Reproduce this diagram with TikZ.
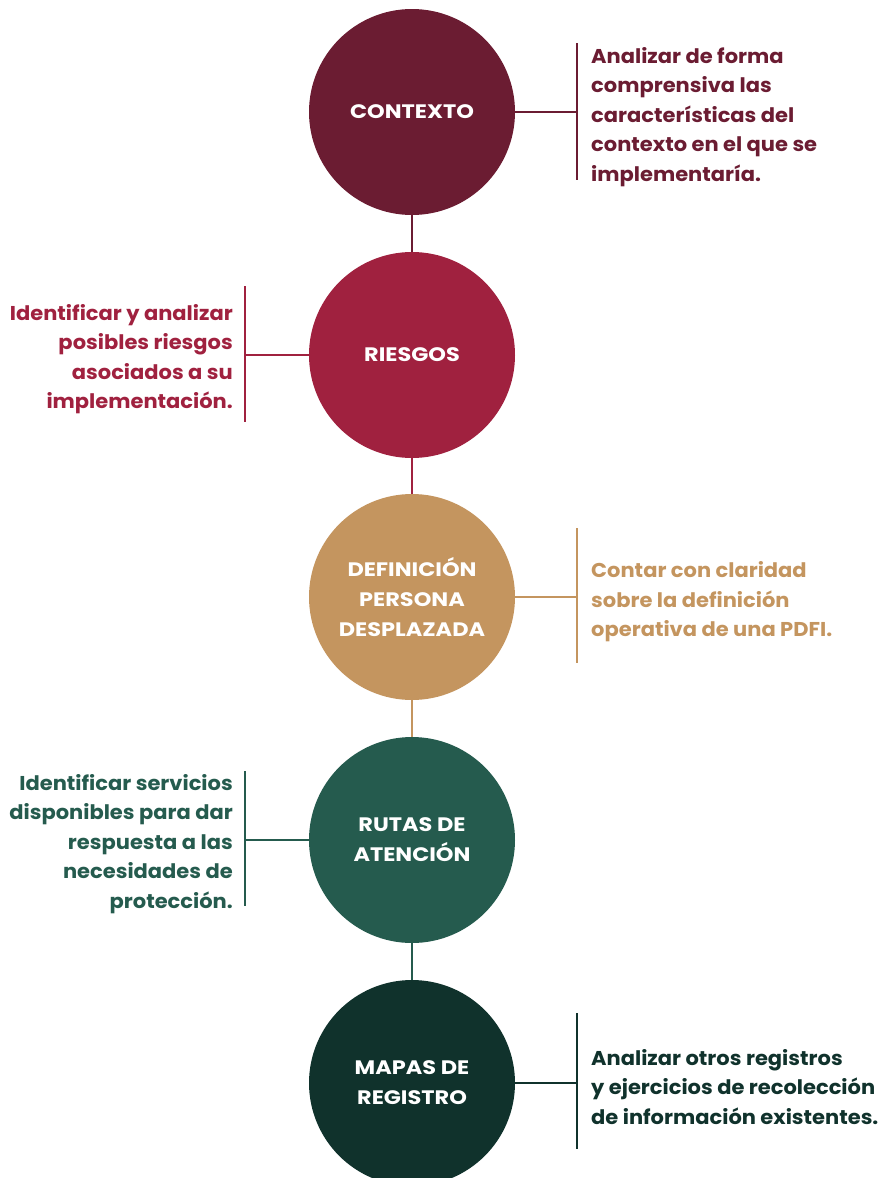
\documentclass[tikz,border=0pt]{standalone}
\usepackage{fontspec}
\setmainfont{Poppins}[FakeStretch=1.05]
\newfontfamily\stagefont{Poppins}[FakeStretch=1.15]
\usepackage{xcolor}
\usepackage{tikz}
\definecolor{wine}{HTML}{6B1C32}
\definecolor{crimson}{HTML}{A0213F}
\definecolor{sand}{HTML}{C4955F}
\definecolor{pine}{HTML}{255B4E}
\definecolor{forest}{HTML}{10322C}

\begin{document}
\begin{tikzpicture}[x=1pt, y=-1pt]
    \tikzstyle{stage} = [circle, minimum size=206pt, inner sep=0pt, text=white, align=center, text depth=0pt, font=\stagefont\bfseries\fontsize{19.5}{30}\selectfont]
    \tikzstyle{note} = [inner sep=0pt, font=\bfseries\fontsize{20}{29.5}\selectfont]
    \tikzstyle{link} = [line width=2pt]

    \useasboundingbox (0,0) rectangle (882,1178);

    % Stages from top to bottom
    \node [stage, fill=wine] (contexto) at (412,112) {CONTEXTO};
    \node [stage, fill=crimson] (riesgos) at (412,355) {RIESGOS};
    \node [stage, fill=sand] (definicion) at (412,597) {DEFINICIÓN\\PERSONA\\DESPLAZADA};
    \node [stage, fill=pine] (rutas) at (412,840) {RUTAS DE\\ATENCIÓN};
    \node [stage, fill=forest] (mapas) at (412,1083) {MAPAS DE\\REGISTRO};

    % Spine between stages
    \draw [link, wine] (contexto.south) -- (riesgos.north);
    \draw [link, crimson] (riesgos.south) -- (definicion.north);
    \draw [link, sand] (definicion.south) -- (rutas.north);
    \draw [link, pine] (rutas.south) -- (mapas.north);

    % Brackets
    \coordinate (ctxtop) at (577,43);  \coordinate (ctxbot) at (577,180);
    \coordinate (rsgtop) at (245,286); \coordinate (rsgbot) at (245,422);
    \coordinate (deftop) at (577,528); \coordinate (defbot) at (577,663);
    \coordinate (rutop) at (245,771);  \coordinate (rubot) at (245,906);
    \coordinate (maptop) at (577,1013); \coordinate (mapbot) at (577,1149);

    \draw [link, wine] (contexto.east) -- (contexto.east -| ctxtop);
    \draw [link, wine] (ctxtop) -- (ctxbot);
    \draw [link, crimson] (riesgos.west) -- (riesgos.west -| rsgtop);
    \draw [link, crimson] (rsgtop) -- (rsgbot);
    \draw [link, sand] (definicion.east) -- (definicion.east -| deftop);
    \draw [link, sand] (deftop) -- (defbot);
    \draw [link, pine] (rutas.west) -- (rutas.west -| rutop);
    \draw [link, pine] (rutop) -- (rubot);
    \draw [link, forest] (mapas.east) -- (mapas.east -| maptop);
    \draw [link, forest] (maptop) -- (mapbot);

    % Descriptions
    \node [note, text=wine, anchor=west, align=left] (ctxnote) at (591,117) {Analizar de forma\\comprensiva las\\características del\\contexto en el que se\\implementaría.};
    \node [note, text=crimson, anchor=east, align=right] (rsgnote) at (233,359) {Identificar y analizar\\posibles riesgos\\asociados a su\\implementación.};
    \node [note, text=sand, anchor=west, align=left] (defnote) at (591,602) {Contar con claridad\\sobre la definición\\operativa de una PDFI.};
    \node [note, text=pine, anchor=east, align=right] (rutnote) at (233,844) {Identificar servicios\\disponibles para dar\\respuesta a las\\necesidades de\\protección.};
    \node [note, text=forest, anchor=west, align=left] (mapnote) at (591,1087) {Analizar otros registros\\y ejercicios de recolección\\de información existentes.};
\end{tikzpicture}
\end{document}
